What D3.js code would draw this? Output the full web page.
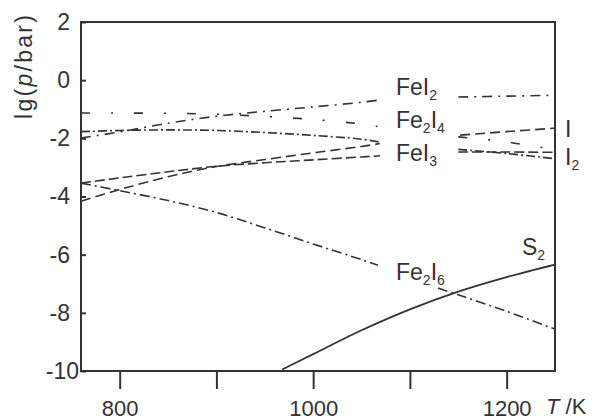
<!DOCTYPE html>
<html><head><meta charset="utf-8">
<script src="https://cdn.jsdelivr.net/npm/d3@7"></script>
<style>
body{margin:0;background:#fff}
svg{display:block}
text{font-family:"Liberation Sans",Arial,Helvetica,sans-serif;fill:#333}
</style></head>
<body><svg id="c" width="596" height="420"></svg>
<script>
// ---- data ----
const xTicks = [800, 900, 1000, 1100, 1200];
const xTickLabels = ["800", "", "1000", "", "1200"];
const yTicks = [2, 0, -2, -4, -6, -8, -10];

// null marks the break where an inline label sits
const tFeI2  = [760, 800, 850, 900, 950, 1000, 1050, 1069, null, 1150, 1200, 1250];
const pFeI2  = [-1.99, -1.78, -1.48, -1.24, -1.07, -0.92, -0.76, -0.68, null, -0.58, -0.55, -0.52];

const tFe2I4 = [760, 800, 850, 900, 950, 1000, 1050, 1069, null, 1150, 1176, 1200, 1231, 1250];
const pFe2I4 = [-1.13, -1.13, -1.14, -1.17, -1.25, -1.35, -1.51, -1.61, null, -1.95, -2.03, -2.12, -2.29, -2.36];

const tFeI3  = [760, 800, 850, 900, 950, 1000, 1050, 1069, null, 1150, 1200, 1250];
const pFeI3  = [-3.54, -3.36, -3.15, -2.96, -2.84, -2.74, -2.64, -2.60, null, -2.47, -2.47, -2.48];

const tFe2I6 = [760, 800, 850, 900, 950, 1000, 1050, 1067, null, 1129, 1150, 1200, 1250];
const pFe2I6 = [-3.54, -3.80, -4.14, -4.55, -5.08, -5.63, -6.17, -6.36, null, -7.15, -7.38, -7.95, -8.56];

const tI     = [760, 800, 850, 900, 950, 1000, 1050, 1069, null, 1152, 1200, 1250];
const pI     = [-4.16, -3.76, -3.32, -2.97, -2.73, -2.50, -2.28, -2.18, null, -1.89, -1.77, -1.65];

const tI2    = [760, 800, 850, 900, 950, 1000, 1050, 1069, null, 1150, 1200, 1250];
const pI2    = [-1.77, -1.73, -1.71, -1.73, -1.80, -1.90, -2.03, -2.13, null, -2.38, -2.52, -2.70];

const tS2    = [968, 1000, 1050, 1100, 1150, 1200, 1250];
const pS2    = [-9.95, -9.42, -8.60, -7.88, -7.27, -6.77, -6.34];

// ---- styles ----
const seriesList = [
  {t: tFeI2,  p: pFeI2,  dash: "10,6,2,6"},
  {t: tFe2I4, p: pFe2I4, dash: "9,21,2,21"},
  {t: tFeI3,  p: pFeI3,  dash: "10,4"},
  {t: tFe2I6, p: pFe2I6, dash: "10,4,2,4"},
  {t: tI,     p: pI,     dash: "10,5"},
  {t: tI2,    p: pI2,    dash: "9,3,2,3"},
  {t: tS2,    p: pS2,    dash: null}
];

const svg = d3.select("#c");
const x = d3.scaleLinear().domain([760, 1250]).range([81, 555]);
const y = d3.scaleLinear().domain([-10, 2]).range([371, 22]);
const ink = "#333";

// curves
const line = d3.line()
  .defined(d => d[0] !== null && d[1] !== null)
  .x(d => x(d[0])).y(d => y(d[1]))
  .curve(d3.curveCatmullRom.alpha(0.5));

seriesList.forEach(s => {
  const pts = s.t.map((t, i) => [t, s.p[i]]);
  svg.append("path")
    .attr("d", line(pts))
    .attr("fill", "none")
    .attr("stroke", ink)
    .attr("stroke-width", s.dash ? 1.6 : 1.8)
    .attr("stroke-dasharray", s.dash);
});

// frame
svg.append("rect")
  .attr("x", x.range()[0]).attr("y", y.range()[1])
  .attr("width", x.range()[1] - x.range()[0])
  .attr("height", y.range()[0] - y.range()[1])
  .attr("fill", "none").attr("stroke", ink).attr("stroke-width", 2);

// x axis
const xAxis = svg.append("g")
  .attr("transform", `translate(0,${y.range()[0]})`)
  .call(d3.axisBottom(x).tickValues(xTicks)
    .tickFormat((d, i) => xTickLabels[i])
    .tickSizeInner(18).tickSizeOuter(0).tickPadding(11));
xAxis.select(".domain").remove();
xAxis.selectAll(".tick line").attr("stroke", ink).attr("stroke-width", 2);
xAxis.selectAll(".tick text").attr("font-size", 22).attr("fill", ink)
  .attr("font-family", '"Liberation Sans",Arial,sans-serif');

// y axis
const yAxis = svg.append("g")
  .attr("transform", `translate(${x.range()[0]},0)`)
  .call(d3.axisLeft(y).tickValues(yTicks).tickFormat(d3.format("d"))
    .tickSizeInner(-5).tickSizeOuter(0).tickPadding(11));
yAxis.select(".domain").remove();
yAxis.selectAll(".tick line").attr("stroke", ink).attr("stroke-width", 2);
yAxis.selectAll(".tick text").attr("font-size", 23).attr("fill", ink)
  .attr("font-family", '"Liberation Sans",Arial,sans-serif')
  .text(d => d < 0 ? "-" + Math.abs(d) : d)
  .attr("dx", d => d === -10 ? 9 : 0);

// axis titles
const yt = svg.append("text")
  .attr("transform", "translate(32,67) rotate(-90)")
  .attr("text-anchor", "middle").attr("font-size", 23)
  .attr("textLength", 104).attr("lengthAdjust", "spacing");
yt.append("tspan").text("lg(");
yt.append("tspan").attr("font-style", "italic").text("p");
yt.append("tspan").text("/bar)");

const xt = svg.append("text").attr("x", 546).attr("y", 414).attr("font-size", 22);
xt.append("tspan").attr("font-style", "italic").text("T");
xt.append("tspan").text(" /K");

// inline labels with subscripts
function label(px, py, parts) {
  const t = svg.append("text").attr("x", px).attr("y", py).attr("font-size", 23);
  let low = false;
  parts.forEach(([s, sub]) => {
    const ts = t.append("tspan").text(s);
    if (sub && !low) { ts.attr("font-size", 14).attr("dy", 5); low = true; }
    else if (sub) { ts.attr("font-size", 14); }
    else if (!sub && low) { ts.attr("dy", -5); low = false; }
  });
}
label(396, 95,  [["FeI", false], ["2", true]]);
label(396, 128, [["Fe", false], ["2", true], ["I", false], ["4", true]]);
label(396, 161, [["FeI", false], ["3", true]]);
label(396, 280, [["Fe", false], ["2", true], ["I", false], ["6", true]]);
label(522, 255, [["S", false], ["2", true]]);
label(565, 137, [["I", false]]);
label(565, 165, [["I", false], ["2", true]]);
</script>
</body></html>
